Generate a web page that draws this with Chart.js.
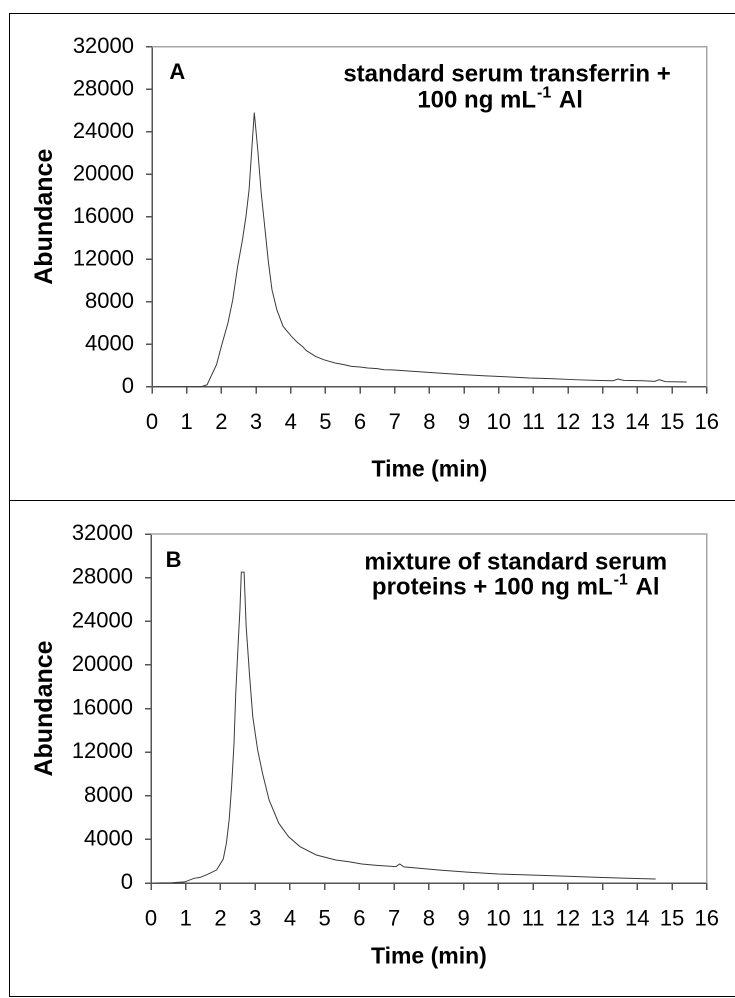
<!DOCTYPE html>
<html><head><meta charset="utf-8">
<script src="https://cdn.jsdelivr.net/npm/chart.js@4.4.1/dist/chart.umd.min.js"></script>
<style>
html,body{margin:0;padding:0;background:#fff;width:735px;height:998px;overflow:hidden;}
#frame{position:absolute;left:9px;top:13px;width:740px;height:984px;border:1.5px solid #000;box-sizing:border-box;}
#sep{position:absolute;left:9px;top:500px;width:740px;height:0;border-top:1.5px solid #000;}
.wrap{position:absolute;left:10px;width:725px;}
</style></head><body>
<div id="frame"></div><div id="sep"></div>
<div class="wrap" style="top:14px;height:486px"><canvas id="cA"></canvas></div>
<div class="wrap" style="top:502px;height:493px"><canvas id="cB"></canvas></div>
<script>
// ---- tick labels ----
const xTicks = [0,1,2,3,4,5,6,7,8,9,10,11,12,13,14,15,16];
const yTicks = [0,4000,8000,12000,16000,20000,24000,28000,32000];

// ---- panel A: standard serum transferrin + 100 ng/mL Al ----
const timeA = [0.1,0.5,1.0,1.45,1.59,1.68,1.86,2.00,2.19,2.33,2.47,2.61,2.71,2.80,2.89,2.95,3.05,3.15,3.27,3.36,3.46,3.60,3.78,4.02,4.20,4.34,4.45,4.72,4.95,5.28,5.50,5.75,6.00,6.22,6.50,6.69,6.92,7.50,8.24,8.90,9.56,10.20,10.88,11.50,12.19,12.80,13.30,13.44,13.60,14.16,14.50,14.63,14.80,15.42];
const abundA = [0,0,0,30,190,820,2070,3790,6000,8190,11320,13840,16030,18540,22940,25800,22300,18230,14470,11640,9130,7250,5680,4740,4150,3790,3400,2850,2540,2230,2100,1910,1850,1760,1700,1600,1580,1450,1290,1150,1035,940,820,760,660,600,560,720,600,565,500,660,480,440];

// ---- panel B: mixture of standard serum proteins + 100 ng/mL Al ----
const timeB = [0.1,0.6,0.97,1.24,1.40,1.60,1.89,2.08,2.17,2.25,2.32,2.39,2.44,2.51,2.56,2.60,2.68,2.74,2.84,2.93,3.07,3.21,3.40,3.68,3.96,4.29,4.76,5.32,5.70,6.07,6.50,7.05,7.16,7.28,7.80,8.28,9.10,9.99,10.80,11.57,12.20,12.89,13.70,14.53];
const abundB = [0,20,100,430,500,750,1200,2200,3640,5780,8830,12810,17400,21980,25030,28500,28500,23500,18920,15250,12200,10060,7610,5470,4250,3330,2570,2110,1950,1740,1620,1500,1740,1480,1330,1190,1000,825,750,670,600,520,440,370];

const FAM = '"Liberation Sans", Arial, Helvetica, sans-serif';

const boxPlugin = {
  id: 'box',
  beforeDatasetsDraw(chart) {
    const {ctx, chartArea: a} = chart;
    ctx.save();
    ctx.strokeStyle = '#a6a6a6';
    ctx.lineWidth = 1.5;
    ctx.beginPath();
    ctx.moveTo(a.left, a.top);
    ctx.lineTo(a.right, a.top);
    ctx.lineTo(a.right, a.bottom);
    ctx.stroke();
    ctx.restore();
  }
};

function drawRich(ctx, parts, cx, cy, align, size) {
  const base = 'bold ' + size + 'px ' + FAM;
  const sup = 'bold ' + Math.round(size * 0.68) + 'px ' + FAM;
  let total = 0;
  const w = parts.map(p => { ctx.font = p[1] ? sup : base; const m = ctx.measureText(p[0]).width + (p[1] ? 2 : 0); total += m; return m; });
  let x = align === 'center' ? cx - total / 2 : cx;
  ctx.textAlign = 'left';
  parts.forEach((p, i) => {
    ctx.font = p[1] ? sup : base;
    ctx.fillText(p[0], x + (p[1] ? 1 : 0), p[1] ? cy - size * 0.33 : cy);
    x += w[i];
  });
}

const notePlugin = {
  id: 'notes',
  afterDraw(chart, args, opts) {
    const {ctx, scales: {x, y}} = chart;
    ctx.save();
    ctx.fillStyle = '#000';
    ctx.textBaseline = 'middle';
    for (const n of opts.items) {
      drawRich(ctx, n.parts, x.getPixelForValue(n.x), y.getPixelForValue(n.y), n.align, n.size);
    }
    ctx.restore();
  }
};

function makeChart(id, xs, ys, notes, g) {
  return new Chart(document.getElementById(id), {
    type: 'line',
    data: { datasets: [{ data: xs.map((t, i) => ({x: t, y: ys[i]})), borderColor: '#3a3a3a', borderWidth: 1, pointRadius: 0, tension: 0, fill: false }] },
    options: {
      responsive: true, maintainAspectRatio: false, animation: false, devicePixelRatio: 2,
      layout: { padding: { top: g.top, right: g.right, left: 0, bottom: 0 } },
      plugins: { legend: { display: false }, tooltip: { enabled: false }, notes: { items: notes } },
      scales: {
        x: {
          type: 'linear', min: 0, max: 16,
          afterBuildTicks: s => { s.ticks = xTicks.map(v => ({value: v})); },
          afterFit: s => { s.height = g.xh; },
          grid: { drawOnChartArea: false, drawTicks: true, tickLength: 7, color: '#555', lineWidth: 1.5 },
          border: { color: '#555', width: 1.5 },
          ticks: { font: { size: 22, family: FAM, lineHeight: 1.2 }, color: '#000', padding: 16, maxRotation: 0, autoSkip: false,
                   callback: (v, i) => String(xTicks[i]) },
          title: { display: true, text: 'Time (min)', color: '#000', font: { size: 23, weight: 'bold', family: FAM, lineHeight: 1.2 }, padding: { top: 0, bottom: g.tpad } }
        },
        y: {
          type: 'linear', min: 0, max: 32000,
          afterBuildTicks: s => { s.ticks = yTicks.map(v => ({value: v})); },
          afterFit: s => { s.width = g.yw; },
          grid: { drawOnChartArea: false, drawTicks: true, tickLength: 6, color: '#555', lineWidth: 1.5 },
          border: { color: '#555', width: 1.5 },
          ticks: { font: { size: 22, family: FAM, lineHeight: 1.2 }, color: '#000', padding: 12, autoSkip: false,
                   callback: (v, i) => String(yTicks[i]) },
          title: { display: true, text: 'Abundance', color: '#000', font: { size: 25, weight: 'bold', family: FAM, lineHeight: 1.2 }, padding: { top: 20, bottom: 0 } }
        }
      }
    },
    plugins: [boxPlugin, notePlugin]
  });
}

const notesA = [
  { x: 0.73, y: 29550, align: 'center', size: 22, parts: [['A', false]] },
  { x: 10.24, y: 29360, align: 'center', size: 24, parts: [['standard serum transferrin +', false]] },
  { x: 10.04, y: 26910, align: 'center', size: 24, parts: [['100 ng mL', false], ['-1', true], [' Al', false]] }
];
const notesB = [
  { x: 0.65, y: 29530, align: 'center', size: 22, parts: [['B', false]] },
  { x: 10.5, y: 29340, align: 'center', size: 24, parts: [['mixture of standard serum', false]] },
  { x: 10.5, y: 27050, align: 'center', size: 24, parts: [['proteins + 100 ng mL', false], ['-1', true], [' Al', false]] }
];

makeChart('cA', timeA, abundA, notesA, { top: 32.7, right: 14, xh: 113.3, yw: 142, tpad: 16 });
makeChart('cB', timeB, abundB, notesB, { top: 32, right: 14, xh: 112, yw: 141, tpad: 24 });
</script>
</body></html>
